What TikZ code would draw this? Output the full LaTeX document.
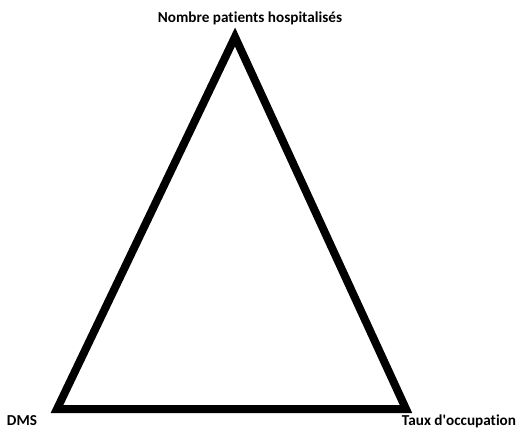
\documentclass[tikz,border=0pt]{standalone}
\usepackage{fontspec}
\setmainfont{Carlito}[Ligatures={NoCommon}]
\usepackage{tikz}
\usetikzlibrary{positioning}

\begin{document}
\begin{tikzpicture}[x=1pt, y=-1pt, font=\bfseries\fontsize{15.2}{17}\selectfont]
            % Canvas
            \useasboundingbox (0,0) rectangle (522,435);
            
            % Corners of the triangle
            \coordinate (top) at (235,37);
            \coordinate (left) at (57,409);
            \coordinate (right) at (406,409);
            
            % Triangle
            \draw[line width=8pt, line join=miter] (top) -- (right) -- (left) -- cycle;
            
            % Labels
            \node (patients) at (250,18) {Nombre patients hospitalisés};
            \node (dms) at (22,421) {DMS};
            \node (taux) at (459,421) {Taux d\textquotesingle occupation};
        \end{tikzpicture}
\end{document}
